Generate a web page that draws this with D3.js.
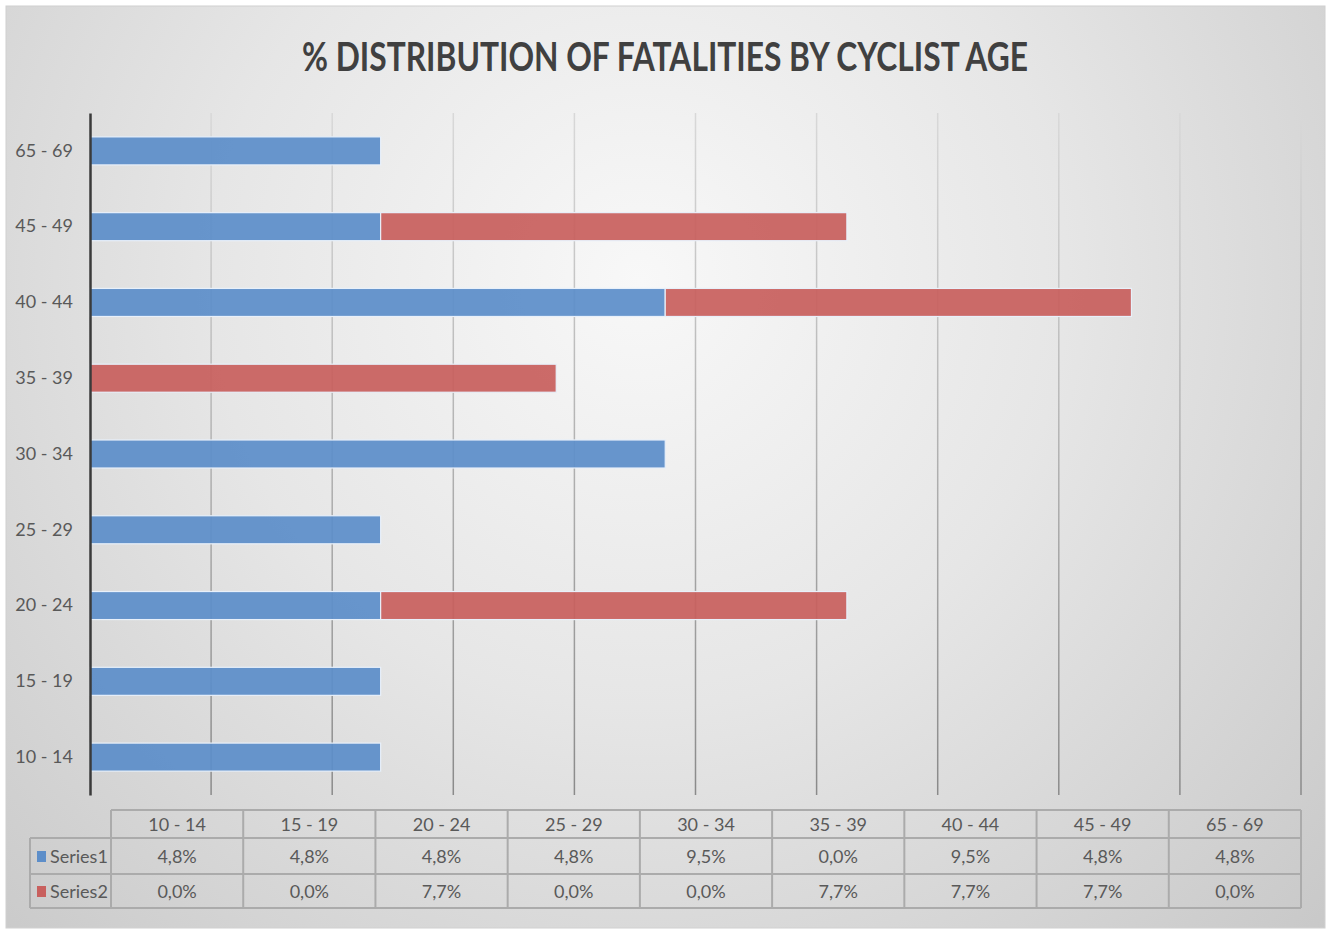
<!DOCTYPE html>
<html>
<head>
<meta charset="utf-8">
<script src="https://cdn.jsdelivr.net/npm/d3@7"></script>
<style>
  body { margin: 0; background: #fff; }
  svg { display: block; }
  text { font-family: Lato, "Open Sans", sans-serif; fill: #595959; }
</style>
</head>
<body>
<svg width="1329" height="933"></svg>
<script>
var categories = ["10 - 14", "15 - 19", "20 - 24", "25 - 29", "30 - 34", "35 - 39", "40 - 44", "45 - 49", "65 - 69"];
var series1 = [4.8, 4.8, 4.8, 4.8, 9.5, 0.0, 9.5, 4.8, 4.8];
var series2 = [0.0, 0.0, 7.7, 0.0, 0.0, 7.7, 7.7, 7.7, 0.0];
var seriesNames = ["Series1", "Series2"];
var seriesColors = ["#5d8ec9", "#c8605e"];
var xTicks = d3.range(0, 21, 2);

var svg = d3.select("svg"),
    width = 1329,
    height = 933;

var defs = svg.append("defs");
var bg = defs.append("radialGradient")
    .attr("id", "bg")
    .attr("gradientUnits", "userSpaceOnUse")
    .attr("cx", 640).attr("cy", 280).attr("r", 950);
bg.append("stop").attr("offset", "0%").attr("stop-color", "#f8f8f8");
bg.append("stop").attr("offset", "45%").attr("stop-color", "#e6e6e6");
bg.append("stop").attr("offset", "100%").attr("stop-color", "#c8c8c8");

var gridGrad = defs.append("linearGradient")
    .attr("id", "grid")
    .attr("gradientUnits", "userSpaceOnUse")
    .attr("x1", 0).attr("y1", 113).attr("x2", 0).attr("y2", 795);
gridGrad.append("stop").attr("offset", "0%").attr("stop-color", "#d8d8d8");
gridGrad.append("stop").attr("offset", "100%").attr("stop-color", "#8a8a8a");

// chart background
svg.append("rect")
    .attr("x", 6).attr("y", 6)
    .attr("width", 1319).attr("height", 922)
    .attr("fill", "url(#bg)")
    .attr("stroke", "#d0d0d0")
    .attr("stroke-width", 1);

svg.append("text")
    .attr("x", 665).attr("y", 71)
    .attr("text-anchor", "middle")
    .attr("font-size", 40)
    .attr("font-weight", "bold")
    .attr("textLength", 726)
    .attr("lengthAdjust", "spacingAndGlyphs")
    .style("fill", "#404040")
    .text("% DISTRIBUTION OF FATALITIES BY CYCLIST AGE");

var plotLeft = 90, plotRight = 1301, plotTop = 113, plotBottom = 795;

var x = d3.scaleLinear().domain([0, 20]).range([plotLeft, plotRight]);
var y = d3.scaleBand().domain(categories.slice().reverse()).range([plotTop, plotBottom]).paddingInner(0.63).paddingOuter(0.315);

// gridlines
svg.append("g")
  .selectAll("line")
  .data(xTicks.slice(1))
  .enter().append("line")
    .attr("x1", function(d) { return x(d); })
    .attr("x2", function(d) { return x(d); })
    .attr("y1", plotTop)
    .attr("y2", plotBottom)
    .attr("stroke", "url(#grid)")
    .attr("stroke-width", 1.5);

// bars
var stack = categories.map(function(c, i) {
  return [[0, series1[i]], [series1[i], series1[i] + series2[i]]];
});

var barG = svg.append("g");
seriesNames.forEach(function(s, k) {
  barG.selectAll(".b" + k)
    .data(categories.filter(function(c, i) { return stack[i][k][1] > stack[i][k][0]; }))
    .enter().append("rect")
      .attr("x", function(c) { return x(stack[categories.indexOf(c)][k][0]); })
      .attr("y", function(c) { return y(c); })
      .attr("width", function(c) { var v = stack[categories.indexOf(c)][k]; return x(v[1]) - x(v[0]); })
      .attr("height", y.bandwidth())
      .attr("fill", seriesColors[k])
      .attr("fill-opacity", 0.93)
      .attr("stroke", "#e8f0fa")
      .attr("stroke-width", 1.2);
});

// vertical axis
var yAxis = svg.append("g")
    .attr("transform", "translate(" + plotLeft + ",0)")
    .call(d3.axisLeft(y).tickSize(0).tickPadding(17));
yAxis.select(".domain").attr("stroke", "#3a3a3a").attr("stroke-width", 2.5);
yAxis.selectAll("text")
    .attr("font-size", 18)
    .style("font-family", "Lato, sans-serif")
    .style("fill", "#595959");

// data table
var tLeft = 111, tRight = 1301, legLeft = 30;
var rowY = [810, 838, 874, 908];
var colX = d3.scaleBand().domain(categories).range([tLeft, tRight]);
var table = svg.append("g")
    .attr("stroke", "#ababab")
    .attr("stroke-width", 2)
    .attr("fill", "none");

// horizontal lines
table.append("line").attr("x1", tLeft).attr("x2", tRight).attr("y1", rowY[0]).attr("y2", rowY[0]);
[1, 2, 3].forEach(function(r) {
  table.append("line").attr("x1", legLeft).attr("x2", tRight).attr("y1", rowY[r]).attr("y2", rowY[r]);
});
// vertical lines
table.append("line").attr("x1", legLeft).attr("x2", legLeft).attr("y1", rowY[1]).attr("y2", rowY[3]);
categories.forEach(function(c) {
  table.append("line").attr("x1", colX(c)).attr("x2", colX(c)).attr("y1", rowY[0]).attr("y2", rowY[3]);
});
table.append("line").attr("x1", tRight).attr("x2", tRight).attr("y1", rowY[0]).attr("y2", rowY[3]);

var fmt = function(v) { return v.toFixed(1).replace(".", ",") + "%"; };

svg.append("g").selectAll("text")
  .data(categories)
  .enter().append("text")
    .attr("x", function(c) { return colX(c) + colX.bandwidth() / 2; })
    .attr("y", (rowY[0] + rowY[1]) / 2 + 7)
    .attr("text-anchor", "middle")
    .attr("font-size", 18)
    .text(function(c) { return c; });

[series1, series2].forEach(function(vals, k) {
  var cy = (rowY[k + 1] + rowY[k + 2]) / 2;
  svg.append("rect")
      .attr("x", 37).attr("y", cy - 5)
      .attr("width", 9).attr("height", 11)
      .attr("fill", seriesColors[k]);
  svg.append("text")
      .attr("x", 50).attr("y", cy + 7)
      .attr("font-size", 18)
      .text(seriesNames[k]);
  svg.append("g").selectAll("text")
    .data(vals)
    .enter().append("text")
      .attr("x", function(v, i) { return colX(categories[i]) + colX.bandwidth() / 2; })
      .attr("y", cy + 7)
      .attr("text-anchor", "middle")
      .attr("font-size", 18)
      .text(fmt);
});
</script>
</body>
</html>
